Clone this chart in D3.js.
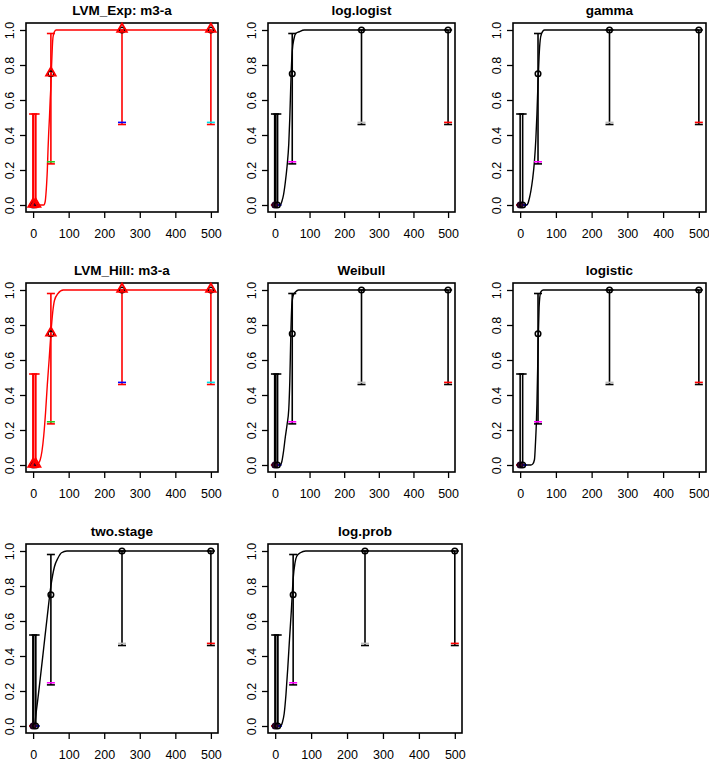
<!DOCTYPE html>
<html lang="en">
<head>
<meta charset="UTF-8">
<title>Dose response fits</title>
<script src="https://cdn.jsdelivr.net/npm/d3@7/dist/d3.min.js"></script>
<style>
    body { margin: 0; background: #fff; }
    text { font-family: "Liberation Sans", Arial, sans-serif; }
</style>
</head>
<body>
<script>

    // panel titles, in reading order
    var titles = ["LVM_Exp: m3-a", "log.logist", "gamma", "LVM_Hill: m3-a", "Weibull", "logistic", "two.stage", "log.prob"];

    // observed dose groups
    var doses    = [0, 7, 50, 250, 500];
    var observed = [0, 0, 0.75, 1, 1];
    var ciUpper  = [0.52, 0.52, 0.98, 1, 1];
    var ciLower  = [0, 0, 0.235, 0.46, 0.46];
    var groupLow = [0, 0, 0.247, 0.472, 0.472];

    var xTicks = [0, 100, 200, 300, 400, 500];
    var yTicks = [0, 0.2, 0.4, 0.6, 0.8, 1.0];

    // fitted curves, [dose, probability]
    var fitLvmExp = [[0,0],[30,0],[34,0.02],[36,0.06],[38,0.12],[40,0.2],[42,0.32],[44,0.42],[46,0.5],[48,0.6],[50,0.68],[52,0.8],[54,0.9],[56,0.96],[60,0.99],[65,1],[500,1]];
    var fitLogLogist = [[0,0],[15,0],[20,0.02],[25,0.06],[30,0.13],[35,0.22],[40,0.35],[43,0.5],[46,0.7],[50,0.88],[55,0.95],[60,0.98],[70,0.99],[85,1],[500,1]];
    var fitGamma = [[0,0],[18,0],[22,0.01],[26,0.04],[30,0.08],[35,0.15],[40,0.25],[44,0.38],[47,0.52],[50,0.7],[53,0.85],[56,0.94],[60,0.98],[68,1],[500,1]];
    var fitLvmHill = [[0,0],[10,0],[15,0.01],[20,0.03],[25,0.08],[30,0.17],[35,0.3],[40,0.46],[45,0.6],[50,0.75],[55,0.87],[60,0.94],[70,0.98],[85,1],[500,1]];
    var fitWeibull = [[0,0],[15,0],[20,0.02],[25,0.08],[30,0.16],[35,0.23],[40,0.32],[43,0.48],[46,0.75],[49,0.92],[53,0.97],[60,0.99],[68,1],[500,1]];
    var fitLogistic = [[0,0],[30,0],[35,0.005],[40,0.03],[43,0.13],[45,0.22],[47,0.35],[49,0.55],[51,0.75],[53,0.9],[55,0.96],[58,0.99],[65,1],[500,1]];
    var fitTwoStage = [[0,0],[3,0],[10,0.1],[20,0.27],[30,0.45],[40,0.63],[50,0.8],[60,0.91],[70,0.96],[80,0.99],[95,1],[500,1]];
    var fitLogProb = [[0,0],[15,0],[20,0.02],[25,0.07],[30,0.18],[35,0.33],[40,0.5],[45,0.66],[50,0.84],[55,0.93],[60,0.97],[70,0.99],[85,1],[500,1]];

    var fits = [fitLvmExp, fitLogLogist, fitGamma, fitLvmHill, fitWeibull, fitLogistic, fitTwoStage, fitLogProb];

    // group tick colours: LVM panels vs the rest
    var lvmColors = ["#000", "#000", "#22cc22", "#0000ff", "#00e5ee"];
    var otherColors = ["#ff0000", "#0000ff", "#ff00ff", "#bebebe", "#ff0000"];

    // panel boxes
    var colLeft = [26, 268, 513], colWidth = [192, 187, 193];
    var rowTop = [23, 283, 544], boxH = 189;
    var thickBars = [true, true, false, true, true, false, true, true];

    var svg = d3.select("body").append("svg")
        .attr("width", 709)
        .attr("height", 766);

    titles.forEach(function (title, i) {
        var col = i % 3, row = Math.floor(i / 3);
        var left = colLeft[col], w = colWidth[col];
        if (i == 7) w = 194;
        var top = rowTop[row];
        var lvm = title.indexOf("LVM") == 0;
        var ink = lvm ? "#ff0000" : "#000";
        var tickCols = lvm ? lvmColors : otherColors;

        var x = d3.scaleLinear().domain([-20, 520]).range([left, left + w]);
        var y = d3.scaleLinear().domain([-0.04, 1.04]).range([top + boxH, top]);

        var g = svg.append("g");

        g.append("text")
            .attr("x", left + w / 2)
            .attr("y", top - 8)
            .attr("text-anchor", "middle")
            .style("font-weight", "bold")
            .style("font-size", "13.5px")
            .text(title);

        var xa = g.append("g")
            .attr("transform", "translate(0," + (top + boxH) + ")")
            .call(d3.axisBottom(x).tickValues(xTicks).tickSize(6).tickPadding(11).tickFormat(d3.format("d")));
        xa.selectAll("text").style("font-size", "12.5px").attr("fill", "#000");

        var ya = g.append("g")
            .attr("transform", "translate(" + left + ",0)")
            .call(d3.axisLeft(y).tickValues(yTicks).tickSize(6).tickFormat(d3.format(".1f")));
        ya.selectAll("text")
            .style("font-size", "12.5px")
            .attr("fill", "#000")
            .attr("x", 0).attr("y", -12).attr("dy", 0)
            .attr("transform", "rotate(-90)")
            .style("text-anchor", "middle");
        g.selectAll(".domain").remove();
        g.selectAll(".tick line").attr("stroke", "#000").attr("stroke-width", 1.3);

        g.append("rect")
            .attr("x", left).attr("y", top)
            .attr("width", w).attr("height", boxH)
            .attr("fill", "none").attr("stroke", "#000").attr("stroke-width", 1.6);

        // fitted curve
        g.append("path")
            .datum(fits[i])
            .attr("d", d3.line().x(function (d) { return x(d[0]); }).y(function (d) { return y(d[1]); }).curve(d3.curveMonotoneX))
            .attr("fill", "none")
            .attr("stroke", ink)
            .attr("stroke-width", 1.4);

        // confidence bars
        doses.forEach(function (d, k) {
            var bw = (k < 2 && thickBars[i]) ? 2.1 : 1.6;
            g.append("line")
                .attr("x1", x(d)).attr("x2", x(d))
                .attr("y1", y(ciLower[k])).attr("y2", y(ciUpper[k]))
                .attr("stroke", ink).attr("stroke-width", bw);
            [ciLower[k], ciUpper[k]].forEach(function (v) {
                g.append("line")
                    .attr("x1", x(d) - 4).attr("x2", x(d) + 4)
                    .attr("y1", y(v)).attr("y2", y(v))
                    .attr("stroke", ink).attr("stroke-width", 1.6);
            });
            g.append("line")
                .attr("x1", x(d) - 4).attr("x2", x(d) + 4)
                .attr("y1", y(groupLow[k])).attr("y2", y(groupLow[k]))
                .attr("stroke", tickCols[k]).attr("stroke-width", 1.6);
        });

        // observed points
        doses.forEach(function (d, k) {
            var px = x(d), py = y(observed[k]);
            g.append("circle").attr("cx", px).attr("cy", py).attr("r", 2.8)
                .attr("fill", k == 0 ? "#3a0a2a" : "none")
                .attr("stroke", k == 0 ? "#220022" : (k == 1 ? ink : "#000"))
                .attr("stroke-width", 1.5);
            if (lvm) {
                g.append("path")
                    .attr("d", d3.symbol().type(d3.symbolTriangle).size(40)())
                    .attr("transform", "translate(" + px + "," + (py - 1) + ")")
                    .attr("fill", "none").attr("stroke", "#ff0000").attr("stroke-width", 1.8);
            }
        });
    });

</script>
</body>
</html>
